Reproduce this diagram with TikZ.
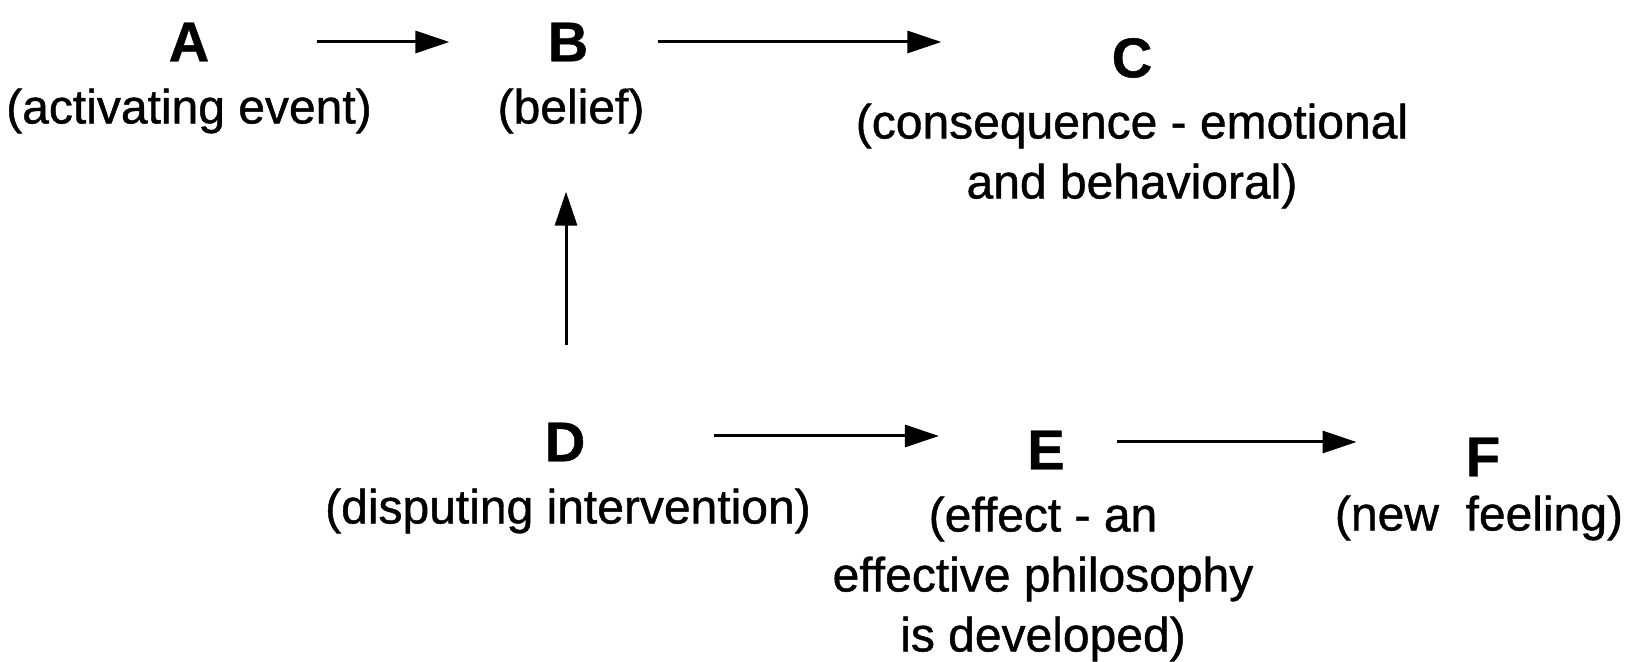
\documentclass[tikz,border=0pt]{standalone}
\usepackage{fontspec}
\setmainfont{Liberation Sans}
\newfontfamily\heavytext[FakeBold=0.9]{Liberation Sans}
\newfontfamily\heavyletter[FakeBold=0.8]{Liberation Sans Bold}
\usetikzlibrary{arrows.meta,calc}
\begin{document}
\begin{tikzpicture}[x=0.5pt,y=-0.5pt,
  letter/.style={inner sep=0pt,font=\fontsize{28}{30}\selectfont\heavyletter},
  desc/.style={inner sep=0pt,align=center,font=\fontsize{24}{30}\selectfont\heavytext},
  arr/.style={line width=1.5pt,-{Triangle[length=17pt,width=11pt]}}]
\useasboundingbox (0,0) rectangle (1649,662);
\node[letter] (A) at (189,42) {A};
\node[desc] (Atxt) at (189,111) {(activating event)};
\node[letter] (B) at (568,42) {B};
\node[desc] (Btxt) at (571,111) {(belief)};
\node[letter] (C) at (1132,58) {C};
\node[desc] (Ctxt) at (1132,156) {(consequence - emotional\\and behavioral)};
\node[letter] (D) at (565,442) {D};
\node[desc] (Dtxt) at (568,511) {(disputing intervention)};
\node[letter] (E) at (1046,450) {E};
\node[desc] (Etxt) at (1043,579) {(effect - an\\effective philosophy\\is developed)};
\node[letter] (F) at (1483,457) {F};
\node[desc] (Ftxt) at (1479,518) {(new~~feeling)};
\draw[arr] ($(A.east)+(107,0)$) -- ($(A.east -| B.west)+(-98,0)$);
\draw[arr] ($(B.east)+(69,0)$) -- ($(B.east -| C.west)+(-170,0)$);
\draw[arr] ($(D.north)+(1,-77)$) -- ($(D.north |- B.south)+(1,130)$);
\draw[arr] ($(D.east)+(128,-6)$) -- ($(D.east -| E.west)+(-88,-6)$);
\draw[arr] ($(E.east)+(52,-8)$) -- ($(E.east -| F.west)+(-109,-8)$);
\end{tikzpicture}
\end{document}
